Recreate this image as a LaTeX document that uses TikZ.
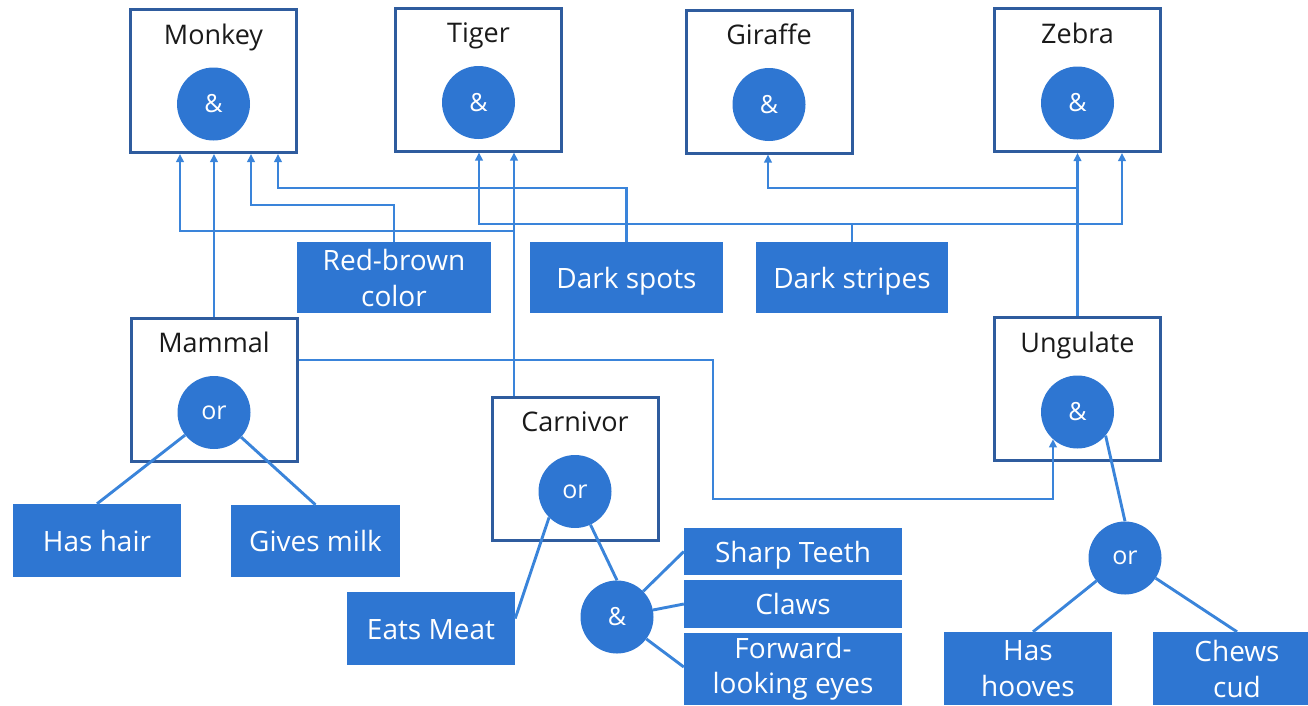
\documentclass[tikz,border=0pt]{standalone}
\usepackage{fontspec}
\setmainfont{Open Sans}
\usetikzlibrary{arrows.meta,calc}

\definecolor{frameblue}{HTML}{2F5C9E}
\definecolor{fillblue}{HTML}{2E76D2}
\definecolor{wireblue}{HTML}{3A84DA}
\definecolor{labelink}{HTML}{1A1A1A}

\begin{document}
\begin{tikzpicture}[x=1pt,y=-1pt,
  outlinebox/.style={draw=frameblue, line width=3pt, minimum width=166pt,
    minimum height=143pt, inner sep=0pt},
  boxtitle/.style={anchor=base, text=labelink, inner sep=0pt,
    font=\fontsize{27}{32}\selectfont},
  gatedisk/.style={circle, fill=fillblue, minimum size=73pt, inner sep=0pt,
    text=white, font=\fontsize{25}{28}\selectfont},
  factbox/.style={fill=fillblue, text=white, inner sep=0pt, align=center,
    font=\fontsize{28}{36}\selectfont},
  oneline/.style={factbox, text height=21pt, text depth=0pt},
  wire/.style={draw=wireblue, line width=2.9pt},
  feed/.style={wire, -{Triangle[length=8pt,width=7.5pt]}},
]
\useasboundingbox (0,0) rectangle (1308,705);

% ---- animals (top row) ----
\node[outlinebox] (monkey)  at (213.5,81)  {};
\node[outlinebox] (tiger)   at (478.5,79.5) {};
\node[outlinebox] (giraffe) at (769,81.5)  {};
\node[outlinebox] (zebra)   at (1077.5,80) {};
\node[boxtitle] (monkeyt)  at ([yshift=-36pt]monkey.north)  {Monkey};
\node[boxtitle] (tigert)   at ([yshift=-36pt]tiger.north)   {Tiger};
\node[boxtitle] (giraffet) at ([yshift=-36pt]giraffe.north) {Giraffe};
\node[boxtitle] (zebrat)   at ([yshift=-36pt]zebra.north)   {Zebra};
\node[gatedisk] (monkeyg)  at ([yshift=-96pt]monkey.north)  {\&};
\node[gatedisk] (tigerg)   at ([yshift=-96pt]tiger.north)   {\&};
\node[gatedisk] (giraffeg) at ([yshift=-96pt]giraffe.north) {\&};
\node[gatedisk] (zebrag)   at ([yshift=-96pt]zebra.north)   {\&};

% ---- classes ----
\node[outlinebox] (mammal)   at (214,389.5)   {};
\node[outlinebox] (carnivor) at (575,468.5)   {};
\node[outlinebox] (ungulate) at (1077.5,389)  {};
\node[boxtitle] (mammalt)   at ([yshift=-36pt]mammal.north)   {Mammal};
\node[boxtitle] (carnivort) at ([yshift=-36pt]carnivor.north) {Carnivor};
\node[boxtitle] (ungulatet) at ([yshift=-36pt]ungulate.north) {Ungulate};
\node[gatedisk] (mammalg)   at ([yshift=-96pt]mammal.north)   {or};
\node[gatedisk] (carnivorg) at ([yshift=-96pt]carnivor.north) {or};
\node[gatedisk] (ungulateg) at ([yshift=-96pt]ungulate.north) {\&};
\node[gatedisk] (carnand)   at (617,617)  {\&};
\node[gatedisk] (ungor)     at (1125,558) {or};

% ---- facts ----
\node[factbox, minimum width=194pt, minimum height=71pt] (redbrown) at (394,277.5) {Red-brown\\color};
\node[oneline, minimum width=193pt, minimum height=71pt] (darkspots) at (626.5,277.5) {Dark spots};
\node[oneline, minimum width=192pt, minimum height=71pt] (darkstripes) at (852,277.5) {Dark stripes};
\node[oneline, minimum width=168pt, minimum height=73pt] (hashair) at (97,540.5) {Has hair};
\node[oneline, minimum width=169pt, minimum height=72pt] (givesmilk) at (315.5,541) {Gives milk};
\node[oneline, minimum width=168pt, minimum height=73pt] (eatsmeat) at (431,628.5) {Eats Meat};
\node[oneline, minimum width=218pt, minimum height=47pt] (sharpteeth) at (793,551.5) {Sharp Teeth};
\node[oneline, minimum width=218pt, minimum height=48pt] (claws) at (793,604) {Claws};
\node[factbox, minimum width=218pt, minimum height=72pt,
  font=\fontsize{28}{35}\selectfont] (forward) at (793,669) {Forward-\\looking eyes};
\node[factbox, minimum width=168pt, minimum height=73pt] (hooves) at (1028,668.5) {Has\\hooves};
\node[factbox, minimum width=155pt, minimum height=73pt] (chews) at (1230.5,668.5)
  {\hspace*{13pt}Chews\\\hspace*{13pt}cud};

% ---- entry points on the animal boxes ----
\coordinate (mk1) at ([xshift=-33.5pt]monkey.south);
\coordinate (mk3) at ([xshift=37.5pt]monkey.south);
\coordinate (mk4) at ([xshift=64.5pt]monkey.south);
\coordinate (tg1) at ([xshift=0.5pt]tiger.south);
\coordinate (gf1) at ([xshift=-1pt]giraffe.south);
\coordinate (zb2) at ([xshift=44.5pt]zebra.south);
\coordinate (cntop) at ([xshift=-61pt]carnivor.north);

% ---- arrows up to the animals ----
\draw[feed] (mammal.north) -- (mammal.north |- monkey.south);
\draw[feed] (redbrown.north) |- (mk3 |- 0,205) -- (mk3);
\draw[feed] (darkspots.north) |- (mk4 |- 0,188) -- (mk4);
\draw[feed] (cntop) -- (cntop |- tiger.south);
\draw[feed] (cntop |- 0,231) -| (mk1);
\draw[feed] (darkstripes.north) |- (tg1 |- 0,224) -- (tg1);
\draw[feed] (darkstripes.north |- 0,224) -| (zb2);
\draw[feed] (ungulate.north) -- (ungulate.north |- zebra.south);
\draw[feed] (ungulate.north |- 0,188) -| (gf1);
\draw[feed] (mammal.east |- 0,360) -| (713,499) -| (ungulateg.228);

% ---- gate inputs ----
\draw[wire] (mammalg) -- (hashair.north);
\draw[wire] (mammalg) -- (givesmilk.north);
\draw[wire] (carnivorg.south west) -- ([yshift=10pt]eatsmeat.east);
\draw[wire] (carnivorg.-65) -- (carnand.north);
\draw[wire] (carnand) -- (sharpteeth.west);
\draw[wire] (carnand) -- (claws.west);
\draw[wire] (carnand) -- ([yshift=2pt]forward.west);
\draw[wire] (ungulateg.-40) -- (ungor.north);
\draw[wire] (ungor) -- ([xshift=5pt]hooves.north);
\draw[wire] (ungor) -- ([xshift=6.5pt]chews.north);
\end{tikzpicture}
\end{document}
